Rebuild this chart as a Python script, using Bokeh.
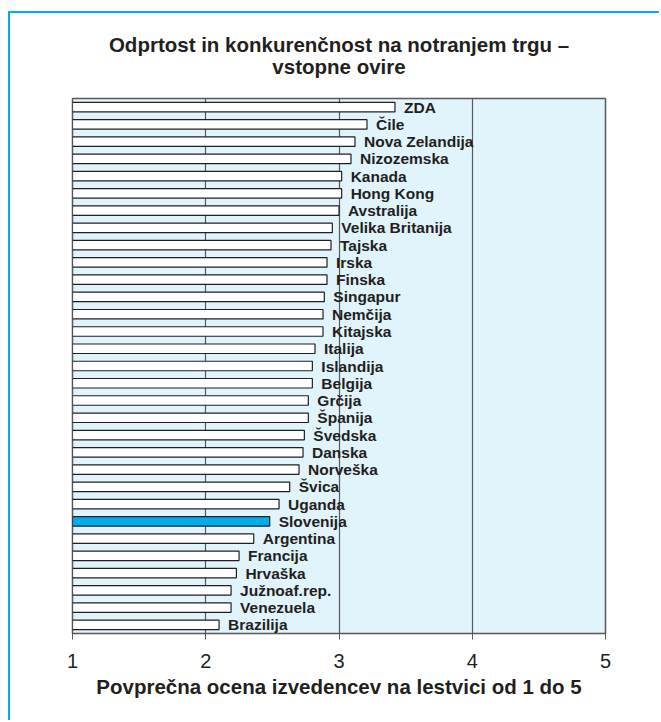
from bokeh.plotting import figure
from bokeh.models import FixedTicker, Title, ColumnDataSource
from bokeh.core.properties import value
from bokeh.embed import file_html
from bokeh.resources import INLINE

countries = ["ZDA", "Čile", "Nova Zelandija", "Nizozemska", "Kanada", "Hong Kong",
             "Avstralija", "Velika Britanija", "Tajska", "Irska", "Finska", "Singapur",
             "Nemčija", "Kitajska", "Italija", "Islandija", "Belgija", "Grčija",
             "Španija", "Švedska", "Danska", "Norveška", "Švica", "Uganda",
             "Slovenija", "Argentina", "Francija", "Hrvaška", "Južnoaf.rep.",
             "Venezuela", "Brazilija"]
scores = [3.42, 3.21, 3.12, 3.09, 3.02, 3.02, 3.00, 2.95, 2.94, 2.91, 2.91, 2.89,
          2.88, 2.88, 2.82, 2.80, 2.80, 2.77, 2.77, 2.74, 2.73, 2.70, 2.63, 2.55,
          2.48, 2.36, 2.25, 2.23, 2.19, 2.19, 2.10]
highlight = "Slovenija"
x_ticks = [1, 2, 3, 4, 5]
title_line1 = "Odprtost in konkurenčnost na notranjem trgu –"
title_line2 = "vstopne ovire"
x_title = "Povprečna ocena izvedencev na lestvici od 1 do 5"

colors = ["#00aeef" if c == highlight else "#ffffff" for c in countries]
src = ColumnDataSource(dict(country=countries, score=scores, color=colors))

p = figure(width=651, height=709, output_backend="svg", toolbar_location=None,
           y_range=list(reversed(countries)), x_range=(1, 5),
           min_border_left=62, min_border_right=56, min_border_top=85,
           min_border_bottom=89)
p.styles = {"border-left": "2px solid #00aeef", "border-top": "2px solid #00aeef",
            "margin-top": "11px", "margin-left": "8px"}
p.y_range.range_padding = 0
p.background_fill_color = "#e1f3fb"
p.border_fill_color = "#ffffff"
p.outline_line_color = "#58595b"
p.outline_line_width = 1.5

p.hbar(y="country", left=1, right="score", height=0.55, fill_color="color",
       line_color="#231f20", line_width=1.2, source=src)
p.text(x="score", y="country", text="country", source=src, x_offset=9,
       text_baseline="middle", text_align="left", text_font=value("Liberation Sans"),
       text_font_style="bold", text_font_size="15.5px", text_color="#231f20")

p.yaxis.visible = False
p.ygrid.visible = False
p.xgrid.ticker = FixedTicker(ticks=[2, 3, 4])
p.xgrid.grid_line_color = "#58595b"
p.xgrid.grid_line_width = 1.2
p.xaxis.ticker = FixedTicker(ticks=x_ticks)
p.xaxis.axis_line_color = "#58595b"
p.xaxis.major_tick_line_color = "#58595b"
p.xaxis.major_tick_in = 0
p.xaxis.major_tick_out = 6
p.xaxis.minor_tick_line_color = None
p.xaxis.major_label_text_font = "Liberation Sans"
p.xaxis.major_label_text_font_size = "20px"
p.xaxis.major_label_text_color = "#231f20"
p.xaxis.major_label_standoff = 14
p.xaxis.axis_label = x_title
p.xaxis.axis_label_text_font = "Liberation Sans"
p.xaxis.axis_label_text_font_size = "20.5px"
p.xaxis.axis_label_text_font_style = "bold"
p.xaxis.axis_label_text_color = "#231f20"
p.xaxis.axis_label_standoff = 4

t2 = Title(text=title_line2, align="center", text_font="Liberation Sans",
           text_font_size="20.5px", text_font_style="bold", text_color="#231f20",
           standoff=42)
t1 = Title(text=title_line1, align="center", text_font="Liberation Sans",
           text_font_size="20.5px", text_font_style="bold", text_color="#231f20",
           standoff=-48)
p.add_layout(t2, "above")
p.add_layout(t1, "above")

open("out.html", "w").write(file_html(p, INLINE))
